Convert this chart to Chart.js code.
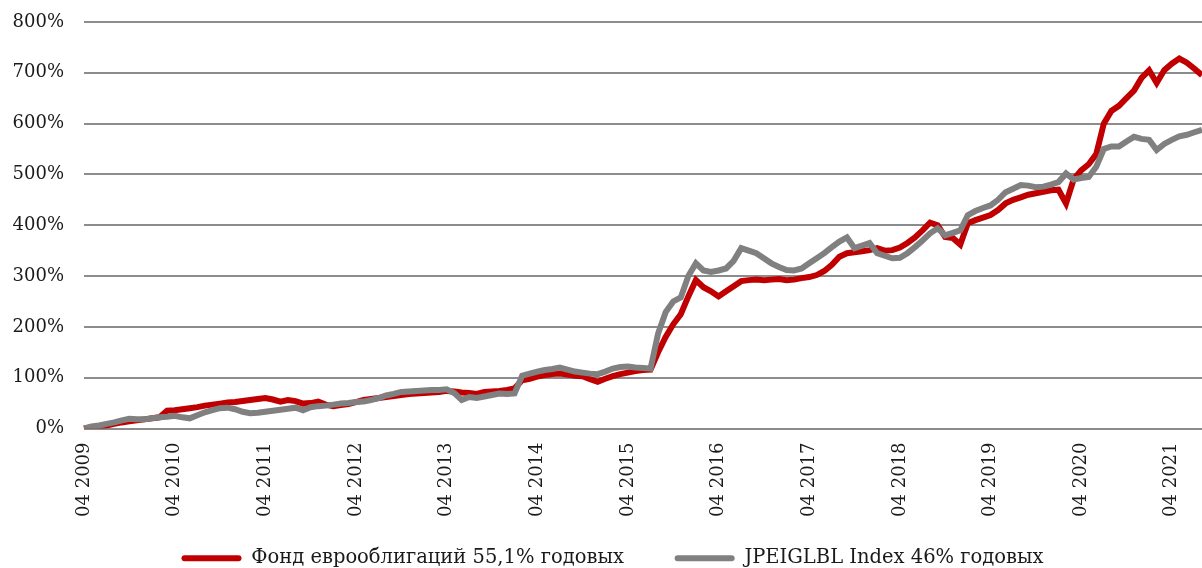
<!DOCTYPE html>
<html lang="ru">
<head>
  <meta charset="UTF-8">
  <title>Фонд еврооблигаций vs JPEIGLBL Index</title>
  <script src="https://cdn.jsdelivr.net/npm/chart.js"></script>
  <style>
    body { margin: 0; background: #fff; }
    #wrap { width: 1202px; height: 568px; position: relative; }
  </style>
</head>
<body>
  <div id="wrap"><canvas id="perfChart"></canvas></div>

  <script>
    // monthly points, April 2009 .. August 2021
    const startYear = 2009;
    const startMonth = 4;

    const fundLabel = "Фонд еврооблигаций 55,1% годовых";
    const indexLabel = "JPEIGLBL Index 46% годовых";

    // cumulative return, %
    const fundValues = [
      0, 2, 4, 6, 9, 12, 14, 16, 18, 20, 22, 35,
      36, 38, 40, 42, 45, 47, 49, 51, 52, 54, 56, 58,
      60, 57, 53, 56, 54, 49, 50, 53, 47, 44, 46, 48,
      52, 56, 58, 60, 62, 64, 66, 68, 69, 70, 71, 72,
      74, 73, 71, 70, 68, 72, 73, 74, 76, 79, 95, 98,
      102, 105, 107, 108, 106, 104, 103, 97, 92, 98, 103, 107,
      110, 113, 115, 116, 150, 180, 205, 225, 260, 292, 278, 270,
      260, 270, 280, 290, 292, 293, 292, 293, 294, 292, 293, 296,
      298, 302, 310, 322, 338, 345, 347, 349, 351, 355, 350, 351,
      356, 365, 376, 390, 405, 400, 377, 375, 362, 404, 410, 415,
      420, 430, 443, 450, 455, 460, 463, 466, 469, 470, 443, 490,
      508, 520, 540, 600, 625, 635, 650, 665, 690, 705, 680, 705,
      718, 728, 720, 708, 695
    ];

    const indexValues = [
      0, 4, 6, 9, 12, 16, 19, 18, 18, 20, 22, 23,
      25, 22, 20, 26, 32, 36, 40, 41, 38, 33, 30, 31,
      33, 35, 37, 39, 41, 36, 42, 44, 45, 47, 49, 50,
      52, 53, 56, 60, 65, 68, 72, 73, 74, 75, 76, 76,
      77, 70, 56, 62, 60, 63, 66, 69, 68, 69, 104, 108,
      112, 115, 117, 120, 116, 112, 110, 108, 107, 112, 118, 121,
      122, 120, 119, 118, 187, 229, 250, 258, 300, 325, 311, 308,
      311, 315, 330, 355, 350, 345, 335, 325, 318, 312, 311, 315,
      325, 335, 345, 357, 368, 376, 355, 360, 365, 345, 340, 335,
      336, 345, 357, 370, 384, 394, 380, 385, 390, 420, 428, 434,
      439, 450, 465, 472, 479, 478, 475, 476, 480, 485, 502, 490,
      493, 495, 515, 550, 555, 555, 565, 574, 570, 568, 548, 560,
      568, 575, 578, 583, 588
    ];

    const yTicks = { min: 0, max: 800, step: 100 };

    const monthLabels = [];
    for (let i = 0; i < fundValues.length; i++) {
      const m = (startMonth - 1 + i) % 12 + 1;
      const y = startYear + Math.floor((startMonth - 1 + i) / 12);
      monthLabels.push(String(m).padStart(2, "0") + " " + y);
    }

    const FONT = "'DejaVu Serif', 'Liberation Serif', serif";
    Chart.defaults.font.family = FONT;
    Chart.defaults.font.size = 18;
    Chart.defaults.color = "#1a1a1a";

    new Chart(document.getElementById("perfChart"), {
      type: "line",
      data: {
        labels: monthLabels,
        datasets: [
          {
            // first dataset is drawn on top
            label: indexLabel,
            data: indexValues,
            borderColor: "#808080",
            backgroundColor: "#808080",
            borderWidth: 6,
            pointRadius: 0,
            tension: 0
          },
          {
            label: fundLabel,
            data: fundValues,
            borderColor: "#c00000",
            backgroundColor: "#c00000",
            borderWidth: 6,
            pointRadius: 0,
            tension: 0
          }
        ]
      },
      options: {
        responsive: true,
        maintainAspectRatio: false,
        animation: false,
        layout: { padding: { left: 0, right: 0, top: 22, bottom: -10 } },
        plugins: {
          tooltip: { enabled: false },
          legend: {
            position: "bottom",
            labels: {
              boxWidth: 60,
              boxHeight: 6,
              padding: 2,
              color: "#1a1a1a",
              font: { size: 19.5 },
              useBorderRadius: true,
              generateLabels(chart) {
                const items = Chart.defaults.plugins.legend.labels.generateLabels(chart);
                const gray = items[0], red = items[1];
                [gray, red].forEach(it => { it.lineWidth = 0; it.borderRadius = 3; });
                red.text = fundLabel + "\u2003\u2003\u2002";
                gray.text = indexLabel + "\u2002\u2002\u2002\u2002\u2002";
                // empty spacer so the pair sits right of centre like the original
                const spacer = { text: "", fillStyle: "rgba(0,0,0,0)", strokeStyle: "rgba(0,0,0,0)",
                                 lineWidth: 0, hidden: false, datasetIndex: -1 };
                return [spacer, red, gray];
              }
            }
          }
        },
        scales: {
          x: {
            grid: { display: false },
            border: { display: false },
            ticks: {
              autoSkip: false,
              maxRotation: 90,
              minRotation: 90,
              padding: 6,
              callback(value, index) {
                return index % 12 === 0 ? this.getLabelForValue(value) : null;
              }
            },
            afterFit(scale) { scale.height = 118; }
          },
          y: {
            min: yTicks.min,
            max: yTicks.max,
            border: { display: false },
            grid: { color: "#8c8c8c", lineWidth: 2, drawTicks: false },
            ticks: {
              stepSize: yTicks.step,
              padding: 20,
              callback: v => v + "%"
            },
            afterFit(scale) {
              scale.width = 84;
              scale.paddingTop = 0;
              scale.paddingBottom = 0;
            }
          }
        }
      }
    });
  </script>
</body>
</html>
